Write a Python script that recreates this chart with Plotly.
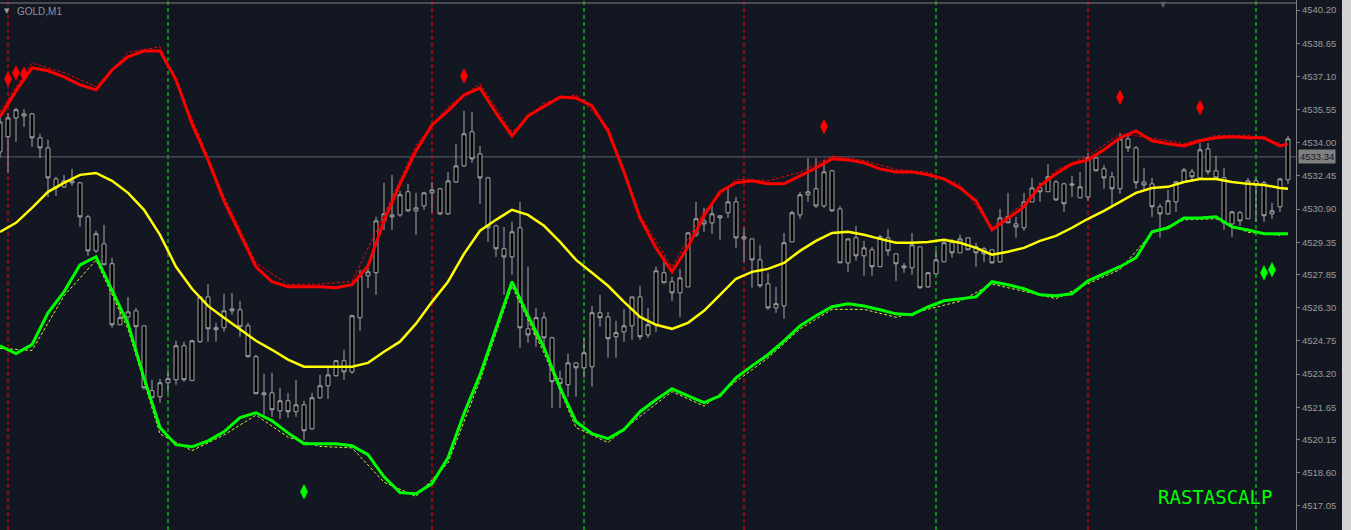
import plotly.graph_objects as go

# ---------------- data ----------------
candle_idx = list(range(162))

open_ = [
4533.57, 4534.28, 4535.16, 4535.35, 4535.35, 4534.23, 4533.76, 4532.31, 4531.94, 4532.22,
4532.13, 4530.54, 4528.95, 4529.28, 4528.35, 4525.50, 4525.87, 4526.15, 4525.45, 4522.42,
4522.14, 4522.79, 4522.93, 4524.52, 4522.89, 4524.71, 4526.80, 4525.36, 4525.36, 4526.15,
4526.20, 4525.45, 4524.01, 4522.32, 4522.32, 4521.48, 4521.95, 4521.44, 4521.76, 4520.64,
4522.09, 4522.65, 4523.12, 4523.82, 4523.30, 4525.83, 4527.79, 4527.93, 4530.35, 4530.63,
4530.63, 4531.71, 4530.82, 4531.05, 4531.66, 4531.85, 4530.68, 4532.17, 4532.92, 4534.51,
4533.48, 4532.36, 4530.12, 4529.05, 4528.67, 4530.03, 4525.31, 4525.03, 4525.83, 4524.89,
4522.98, 4522.70, 4523.72, 4523.49, 4523.54, 4526.06, 4525.87, 4524.94, 4525.17, 4525.45,
4526.80, 4525.03, 4525.50, 4527.93, 4527.51, 4526.99, 4527.27, 4529.70, 4530.35, 4530.26,
4530.59, 4530.73, 4531.24, 4529.61, 4529.51, 4528.53, 4527.41, 4526.29, 4526.38, 4529.37,
4530.63, 4531.57, 4531.85, 4531.05, 4532.69, 4530.91, 4528.39, 4529.56, 4528.72, 4529.00,
4528.21, 4529.56, 4528.81, 4528.25, 4528.16, 4529.14, 4527.27, 4527.88, 4528.44, 4529.33,
4528.86, 4529.56, 4529.14, 4529.05, 4529.00, 4528.44, 4530.54, 4530.21, 4530.03, 4531.24,
4531.89, 4531.71, 4532.17, 4532.08, 4532.08, 4531.43, 4531.47, 4533.29, 4532.78, 4532.41,
4531.85, 4534.18, 4533.76, 4532.17, 4532.08, 4531.01, 4530.68, 4531.24, 4532.17, 4532.64,
4532.36, 4533.71, 4532.69, 4532.36, 4530.21, 4530.73, 4530.45, 4532.22, 4532.13, 4530.68,
4531.01, 4532.27]

high = [
4535.21, 4535.39, 4535.63, 4535.58, 4535.39, 4534.42, 4534.14, 4532.41, 4532.50, 4532.78,
4532.17, 4530.63, 4529.89, 4530.17, 4528.63, 4526.29, 4526.80, 4526.29, 4525.45, 4522.93,
4522.98, 4523.40, 4524.75, 4524.71, 4524.80, 4526.80, 4527.41, 4525.59, 4526.95, 4526.99,
4526.62, 4525.59, 4524.10, 4523.21, 4523.26, 4522.56, 4522.32, 4522.93, 4521.95, 4522.32,
4523.16, 4523.58, 4523.87, 4524.33, 4525.97, 4528.07, 4528.16, 4530.54, 4532.13, 4532.50,
4531.75, 4532.08, 4531.66, 4531.71, 4532.17, 4531.89, 4532.64, 4533.95, 4535.49, 4535.44,
4533.85, 4532.41, 4530.17, 4530.07, 4530.31, 4531.24, 4528.21, 4526.29, 4526.10, 4524.94,
4523.35, 4524.15, 4523.72, 4524.85, 4526.38, 4526.90, 4526.10, 4525.69, 4526.24, 4526.80,
4527.32, 4526.29, 4528.21, 4528.67, 4527.74, 4528.11, 4529.84, 4531.24, 4530.96, 4531.10,
4530.59, 4531.94, 4531.47, 4530.03, 4529.51, 4529.23, 4527.93, 4527.27, 4529.79, 4530.82,
4531.71, 4533.29, 4533.29, 4533.20, 4532.73, 4531.05, 4529.51, 4530.12, 4529.42, 4529.14,
4529.70, 4529.98, 4528.81, 4528.39, 4529.79, 4529.14, 4527.93, 4529.00, 4529.51, 4529.51,
4529.70, 4529.56, 4529.33, 4529.14, 4529.00, 4530.91, 4531.66, 4530.54, 4531.66, 4532.36,
4532.13, 4533.01, 4532.27, 4532.13, 4532.45, 4532.64, 4533.53, 4533.34, 4532.97, 4532.64,
4534.46, 4534.42, 4533.85, 4532.83, 4532.36, 4531.15, 4531.80, 4532.22, 4532.83, 4532.78,
4533.99, 4533.99, 4533.39, 4532.83, 4530.82, 4530.82, 4532.36, 4532.36, 4532.22, 4531.19,
4532.36, 4534.32]

low = [
4533.29, 4532.59, 4534.04, 4534.74, 4533.81, 4533.29, 4531.47, 4531.52, 4531.89, 4531.99,
4530.07, 4528.72, 4528.86, 4528.30, 4525.36, 4525.50, 4525.50, 4524.43, 4522.47, 4522.09,
4521.86, 4522.32, 4522.70, 4522.84, 4522.89, 4524.66, 4524.71, 4524.71, 4525.17, 4525.97,
4524.94, 4523.96, 4522.28, 4521.30, 4521.20, 4521.11, 4521.16, 4521.20, 4520.13, 4520.60,
4522.04, 4522.04, 4523.07, 4522.93, 4523.21, 4525.22, 4527.23, 4526.90, 4529.93, 4529.93,
4530.54, 4530.77, 4529.70, 4530.87, 4530.73, 4530.63, 4530.63, 4532.13, 4532.87, 4533.06,
4531.15, 4529.37, 4528.67, 4526.90, 4527.83, 4524.43, 4524.66, 4524.47, 4524.33, 4521.62,
4521.62, 4522.14, 4522.14, 4523.02, 4522.61, 4525.41, 4523.96, 4523.96, 4524.71, 4524.80,
4524.80, 4524.89, 4525.17, 4527.46, 4526.62, 4525.87, 4527.27, 4529.61, 4529.84, 4529.75,
4529.47, 4530.49, 4529.09, 4528.44, 4527.23, 4527.23, 4526.20, 4526.06, 4525.78, 4529.37,
4530.45, 4531.24, 4530.96, 4530.96, 4530.77, 4528.39, 4527.97, 4528.49, 4527.79, 4527.79,
4528.21, 4528.72, 4527.55, 4527.93, 4527.83, 4527.18, 4527.23, 4527.88, 4528.44, 4528.63,
4528.86, 4529.00, 4528.21, 4528.44, 4528.35, 4528.39, 4530.26, 4529.56, 4529.89, 4531.24,
4531.24, 4531.71, 4531.29, 4530.77, 4531.47, 4531.43, 4531.29, 4532.69, 4531.85, 4531.01,
4531.61, 4533.57, 4531.85, 4531.80, 4530.54, 4529.56, 4530.63, 4530.77, 4532.17, 4532.27,
4532.36, 4532.50, 4532.36, 4529.93, 4529.61, 4530.12, 4530.45, 4530.31, 4530.31, 4530.45,
4530.77, 4532.08]

close = [
4534.97, 4535.16, 4535.54, 4535.25, 4534.23, 4533.76, 4532.36, 4531.89, 4532.22, 4532.13,
4530.54, 4528.95, 4529.75, 4528.30, 4525.50, 4525.83, 4526.10, 4525.41, 4522.56, 4522.09,
4522.79, 4522.98, 4524.52, 4522.93, 4524.75, 4526.80, 4525.31, 4525.27, 4526.15, 4526.24,
4525.41, 4524.01, 4522.28, 4522.23, 4521.53, 4521.95, 4521.44, 4521.76, 4520.55, 4522.09,
4522.65, 4523.16, 4523.82, 4523.30, 4525.92, 4527.79, 4527.97, 4530.35, 4530.68, 4530.54,
4531.57, 4530.82, 4530.96, 4531.66, 4531.80, 4530.68, 4532.22, 4532.92, 4534.42, 4533.25,
4532.36, 4530.03, 4529.05, 4528.67, 4529.84, 4525.36, 4525.03, 4525.83, 4524.89, 4522.84,
4522.75, 4523.72, 4523.49, 4524.19, 4526.06, 4525.83, 4524.85, 4525.13, 4525.45, 4526.80,
4524.94, 4525.50, 4528.02, 4527.46, 4526.99, 4527.69, 4529.79, 4530.45, 4530.21, 4530.68,
4530.49, 4531.24, 4529.56, 4529.51, 4528.53, 4527.32, 4526.29, 4526.48, 4529.33, 4530.73,
4531.57, 4531.71, 4531.05, 4532.64, 4530.82, 4528.39, 4529.51, 4528.72, 4529.09, 4528.21,
4529.61, 4528.95, 4528.35, 4528.16, 4529.23, 4527.23, 4527.93, 4528.53, 4529.33, 4528.86,
4529.51, 4529.00, 4528.86, 4528.81, 4528.39, 4530.49, 4530.26, 4530.07, 4531.24, 4531.89,
4531.71, 4532.41, 4531.33, 4531.15, 4532.03, 4531.94, 4533.29, 4532.69, 4532.36, 4531.85,
4534.18, 4533.76, 4532.13, 4532.03, 4531.01, 4530.68, 4531.29, 4532.17, 4532.73, 4532.41,
4533.67, 4532.64, 4532.36, 4530.26, 4530.77, 4530.35, 4532.22, 4532.03, 4530.59, 4530.82,
4532.31, 4534.18]

band_x = list(range(0, 161, 2)) + [161]

upper_band = [
4535.21, 4536.42, 4537.50, 4537.36, 4537.08, 4536.70, 4536.47, 4537.40, 4538.01, 4538.29,
4538.29, 4536.94, 4534.88, 4533.20, 4531.29, 4529.75, 4528.21, 4527.51, 4527.27, 4527.27,
4527.27, 4527.23, 4527.37, 4528.25, 4530.35, 4532.08, 4533.62, 4534.83, 4535.49, 4536.23,
4536.56, 4535.39, 4534.32, 4535.25, 4535.68, 4536.14, 4536.09, 4535.72, 4534.55, 4532.64,
4530.49, 4529.09, 4527.97, 4529.14, 4530.59, 4531.71, 4532.13, 4532.22, 4532.08, 4532.08,
4532.45, 4532.83, 4533.25, 4533.20, 4533.06, 4532.78, 4532.64, 4532.64, 4532.50, 4532.31,
4531.89, 4531.29, 4529.93, 4530.45, 4531.01, 4531.99, 4532.55, 4533.01, 4533.20, 4533.67,
4534.23, 4534.55, 4534.09, 4533.95, 4533.85, 4534.09, 4534.23, 4534.28, 4534.23, 4534.23,
4533.85, 4533.95]

middle_band = [
4529.84, 4530.26, 4530.96, 4531.71, 4532.13, 4532.50, 4532.59, 4532.22, 4531.66, 4530.87,
4529.70, 4528.21, 4527.18, 4526.38, 4525.83, 4525.31, 4524.75, 4524.33, 4523.87, 4523.54,
4523.54, 4523.54, 4523.54, 4523.72, 4524.24, 4524.71, 4525.55, 4526.57, 4527.51, 4528.81,
4529.89, 4530.40, 4530.87, 4530.63, 4530.12, 4529.37, 4528.53, 4527.93, 4527.32, 4526.57,
4525.87, 4525.50, 4525.31, 4525.59, 4526.15, 4526.90, 4527.65, 4527.97, 4528.11, 4528.39,
4528.95, 4529.42, 4529.79, 4529.84, 4529.70, 4529.51, 4529.33, 4529.33, 4529.37, 4529.47,
4529.33, 4529.09, 4528.77, 4528.91, 4529.09, 4529.42, 4529.65, 4530.03, 4530.45, 4530.82,
4531.24, 4531.66, 4531.89, 4531.94, 4532.17, 4532.31, 4532.31, 4532.17, 4532.08, 4532.03,
4531.89, 4531.85]

lower_band = [
4524.52, 4524.15, 4524.57, 4526.06, 4527.04, 4528.30, 4528.67, 4527.13, 4525.55, 4523.02,
4520.69, 4519.90, 4519.80, 4520.08, 4520.50, 4521.16, 4521.39, 4521.02, 4520.45, 4519.94,
4519.94, 4519.94, 4519.85, 4519.43, 4518.40, 4517.66, 4517.61, 4518.08, 4519.29, 4521.35,
4523.16, 4525.36, 4527.51, 4525.92, 4524.43, 4522.56, 4520.97, 4520.41, 4520.18, 4520.60,
4521.44, 4522.00, 4522.51, 4522.18, 4521.86, 4522.18, 4523.02, 4523.58, 4524.10, 4524.75,
4525.45, 4525.92, 4526.34, 4526.48, 4526.38, 4526.20, 4526.01, 4525.97, 4526.34, 4526.62,
4526.71, 4526.80, 4527.51, 4527.37, 4527.18, 4526.90, 4526.85, 4526.95, 4527.55, 4527.88,
4528.21, 4528.63, 4529.84, 4530.03, 4530.49, 4530.49, 4530.54, 4530.07, 4529.93, 4529.75,
4529.75, 4529.75]

outer_x = list(range(0, 161, 4))

upper_outer = [
4535.45, 4537.72, 4537.27, 4536.62, 4538.22, 4538.48, 4535.12, 4531.50, 4528.38, 4527.38,
4527.40, 4527.52, 4530.62, 4533.88, 4535.70, 4536.76, 4534.50, 4535.85, 4536.25, 4534.72,
4530.62, 4528.20, 4530.80, 4532.30, 4532.22, 4532.62, 4533.38, 4533.17, 4532.76, 4532.62,
4532.05, 4530.05, 4531.20, 4532.72, 4533.38, 4534.42, 4534.22, 4533.97, 4534.33, 4534.35,
4533.98]

lower_outer = [
4524.40, 4524.30, 4526.85, 4528.52, 4525.30, 4520.40, 4519.62, 4520.35, 4521.28, 4520.25,
4519.82, 4519.75, 4518.15, 4517.48, 4519.05, 4522.90, 4527.30, 4524.18, 4520.70, 4520.00,
4521.22, 4522.38, 4521.70, 4522.85, 4523.95, 4525.30, 4526.22, 4526.22, 4525.85, 4526.22,
4526.60, 4527.40, 4527.05, 4526.72, 4527.42, 4528.08, 4529.78, 4530.40, 4530.45, 4529.82,
4529.68]

sell_idx = [1, 2, 3, 58, 103, 140, 150]
sell_price = [4536.98, 4537.26, 4537.21, 4537.12, 4534.76, 4536.12, 4535.65]
buy_idx = [38, 158, 159]
buy_price = [4517.70, 4527.93, 4528.07]

red_vlines = [1, 54, 93, 136]
green_vlines = [21, 73, 117, 157]

bid_price = 4533.34

tick_vals = [4540.20, 4538.65, 4537.10, 4535.55, 4534.00, 4532.45, 4530.90, 4529.35,
             4527.85, 4526.30, 4524.75, 4523.20, 4521.65, 4520.15, 4518.60, 4517.05]
tick_text = ["4540.20", "4538.65", "4537.10", "4535.55", "4534.00", "4532.45", "4530.90", "4529.35",
             "4527.85", "4526.30", "4524.75", "4523.20", "4521.65", "4520.15", "4518.60", "4517.05"]

assert len(open_) == len(high) == len(low) == len(close) == 162
assert len(upper_band) == len(middle_band) == len(lower_band) == len(band_x)
assert len(upper_outer) == len(lower_outer) == len(outer_x)

# ---------------- figure ----------------
BG = "#131722"
W, H = 1342, 530          # the rest of the 1351 px window is the light window frame
PLOT_W = 1296

fig = go.Figure()

candle_style = dict(line=dict(color="#a8a8a8", width=1), fillcolor="#000000")
fig.add_trace(go.Candlestick(
    x=candle_idx, open=open_, high=high, low=low, close=close,
    increasing=candle_style, decreasing=candle_style,
    whiskerwidth=0, hoverinfo="skip", showlegend=False))

fig.add_trace(go.Scatter(x=outer_x, y=upper_outer, mode="lines",
                         line=dict(color="#ff0000", width=1, dash="3px,2px"), hoverinfo="skip"))
fig.add_trace(go.Scatter(x=outer_x, y=lower_outer, mode="lines",
                         line=dict(color="#c8f03c", width=1, dash="3px,2px"), hoverinfo="skip"))
fig.add_trace(go.Scatter(x=band_x, y=upper_band, mode="lines",
                         line=dict(color="#ff0000", width=3), hoverinfo="skip"))
fig.add_trace(go.Scatter(x=band_x, y=middle_band, mode="lines",
                         line=dict(color="#ffff00", width=2.5), hoverinfo="skip"))
fig.add_trace(go.Scatter(x=band_x, y=lower_band, mode="lines",
                         line=dict(color="#00ff00", width=3), hoverinfo="skip"))

fig.add_trace(go.Scatter(x=sell_idx, y=sell_price, mode="markers",
                         marker=dict(symbol="diamond-tall", size=11, color="#ff0000"), hoverinfo="skip"))
fig.add_trace(go.Scatter(x=buy_idx, y=buy_price, mode="markers",
                         marker=dict(symbol="diamond-tall", size=11, color="#00ff00"), hoverinfo="skip"))

shapes = []
for k in red_vlines:
    shapes.append(dict(type="line", xref="x", yref="paper", x0=k, x1=k, y0=0, y1=1,
                       line=dict(color="#ff0000", width=1, dash="4px,3px"), layer="below"))
for k in green_vlines:
    shapes.append(dict(type="line", xref="x", yref="paper", x0=k, x1=k, y0=0, y1=1,
                       line=dict(color="#00ff00", width=1, dash="4px,3px"), layer="below"))
# bid line
shapes.append(dict(type="line", xref="paper", yref="y", x0=0, x1=1, y0=bid_price, y1=bid_price,
                   line=dict(color="#5c6068", width=1), layer="below"))
# top frame
shapes.append(dict(type="line", xref="paper", yref="paper", x0=0, x1=1,
                   y0=1 - 3 / H, y1=1 - 3 / H, line=dict(color="#808080", width=1)))

annotations = [
    dict(text="GOLD,M1", xref="paper", yref="paper", x=15 / PLOT_W, y=1 - 12 / H,
         xanchor="left", yanchor="middle", showarrow=False,
         font=dict(family="Liberation Sans", size=10, color="#8a94a0")),
    dict(text="▼", xref="paper", yref="paper", x=7 / PLOT_W, y=1 - 11 / H,
         xanchor="center", yanchor="middle", showarrow=False,
         font=dict(family="DejaVu Sans", size=7, color="#9aa0a8")),
    dict(text="▼", xref="paper", yref="paper", x=1163 / PLOT_W, y=1 - 5 / H,
         xanchor="center", yanchor="middle", showarrow=False,
         font=dict(family="DejaVu Sans", size=8, color="#5a5e66")),
    dict(text="RASTASCALP", xref="paper", yref="paper", x=1215 / PLOT_W, y=1 - 497 / H,
         xanchor="center", yanchor="middle", showarrow=False,
         font=dict(family="DejaVu Sans Mono", size=19, color="#00ff00")),
    dict(text="4533.34", xref="paper", yref="y", x=1, y=bid_price, xanchor="left", yanchor="middle",
         xshift=2, showarrow=False, bgcolor="#808080", borderpad=1,
         font=dict(family="Liberation Sans", size=9.5, color="#131722")),
]

fig.update_layout(
    width=W, height=H,
    margin=dict(l=0, r=W - PLOT_W, t=0, b=0, autoexpand=False),
    paper_bgcolor=BG, plot_bgcolor=BG,
    showlegend=False,
    boxgap=0.3,
    shapes=shapes,
    annotations=annotations,
    xaxis=dict(range=[0, 162], visible=False, showgrid=False, zeroline=False,
               rangeslider=dict(visible=False), fixedrange=True, automargin=False),
    yaxis=dict(side="right", range=[4515.915, 4540.667], showgrid=False, zeroline=False,
               tickmode="array", tickvals=tick_vals, ticktext=tick_text,
               showline=True, linecolor="#808080", linewidth=1,
               ticks="outside", ticklen=3, tickcolor="#808080",
               tickfont=dict(family="Liberation Sans", size=9.5, color="#9a9a9a"),
               fixedrange=True, automargin=False),
)

fig.write_html(
    "out.html",
    config={"displayModeBar": False, "staticPlot": True},
    post_script="document.body.style.margin='0';document.body.style.overflow='hidden';"
                "document.body.style.background='#d4d4d4';"
                "document.body.style.borderLeft='0';",
)
